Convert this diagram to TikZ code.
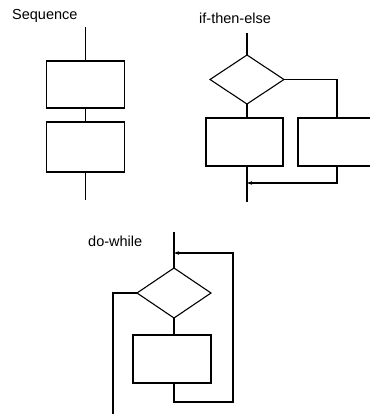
\documentclass[tikz,border=0pt]{standalone}
\usepackage{fontspec}
\setmainfont{Liberation Sans}
\usetikzlibrary{shapes.geometric,arrows.meta}
\begin{document}
\begin{tikzpicture}[x=1pt,y=-1pt,
  flow/.style={line width=1.1pt},
  procbox/.style={draw,line width=1.1pt,rectangle,inner sep=0pt,outer sep=0pt},
  decide/.style={draw,line width=1.1pt,diamond,inner sep=0pt,outer sep=0pt,minimum width=74pt,minimum height=49pt},
  title/.style={font=\fontsize{14.5}{16}\selectfont,inner sep=0pt,anchor=west},
  tip/.style={-{Stealth[length=5pt,width=3.5pt]}}]
\useasboundingbox (0,0) rectangle (370,416);
\clip (0,0) rectangle (370,416);
% Sequence
\node[title] (tseq) at (12,16) {Sequence};
\coordinate (s0) at (85.5,27);
\node[procbox,minimum width=78pt,minimum height=47pt] (s1) at (85.5,84.5) {};
\node[procbox,minimum width=78pt,minimum height=50pt] (s2) at (85.5,147) {};
\coordinate (s3) at (85.5,200);
\draw[flow] (s0) -- (s1.north);
\draw[flow] (s1.south) -- (s2.north);
\draw[flow] (s2.south) -- (s3);
% if-then-else
\node[title] (tite) at (199,18) {if-then-else};
\coordinate (i0) at (247,33);
\node[decide] (id) at (247,79.5) {};
\node[procbox,minimum width=77pt,minimum height=48pt] (ib1) at (244.5,142) {};
\node[procbox,minimum width=78pt,minimum height=48pt] (ib2) at (337,142) {};
\coordinate (ij) at (247,183);
\coordinate (iend) at (247,202);
\coordinate (ir) at (337,79.5);
\coordinate (irb) at (337,183);
\draw[flow] (i0) -- (id.north);
\draw[flow] (id.south) -- (id.south |- ib1.north);
\draw[flow] (id.east) -- (ir) -- (ir |- ib2.north);
\draw[flow] (ij |- ib1.south) -- (iend);
\draw[flow,tip] (irb |- ib2.south) -- (irb) -- (ij);
% do-while
\node[title] (tdw) at (88,241) {do-while};
\coordinate (d0) at (174,232);
\coordinate (dj) at (174,253);
\node[decide,minimum height=50pt] (dd) at (174,293) {};
\node[procbox,minimum width=78pt,minimum height=48pt] (db) at (172,359) {};
\coordinate (dbl) at (174,402);
\coordinate (dbr) at (233,402);
\coordinate (dtr) at (233,253);
\coordinate (dl) at (113,293);
\coordinate (dlend) at (113,414);
\draw[flow] (d0) -- (dd.north);
\draw[flow] (dd.south) -- (dd.south |- db.north);
\draw[flow,tip] (dbl |- db.south) -- (dbl) -- (dbr) -- (dtr) -- (dj);
\draw[flow] (dd.west) -- (dl) -- (dlend);
\end{tikzpicture}
\end{document}
